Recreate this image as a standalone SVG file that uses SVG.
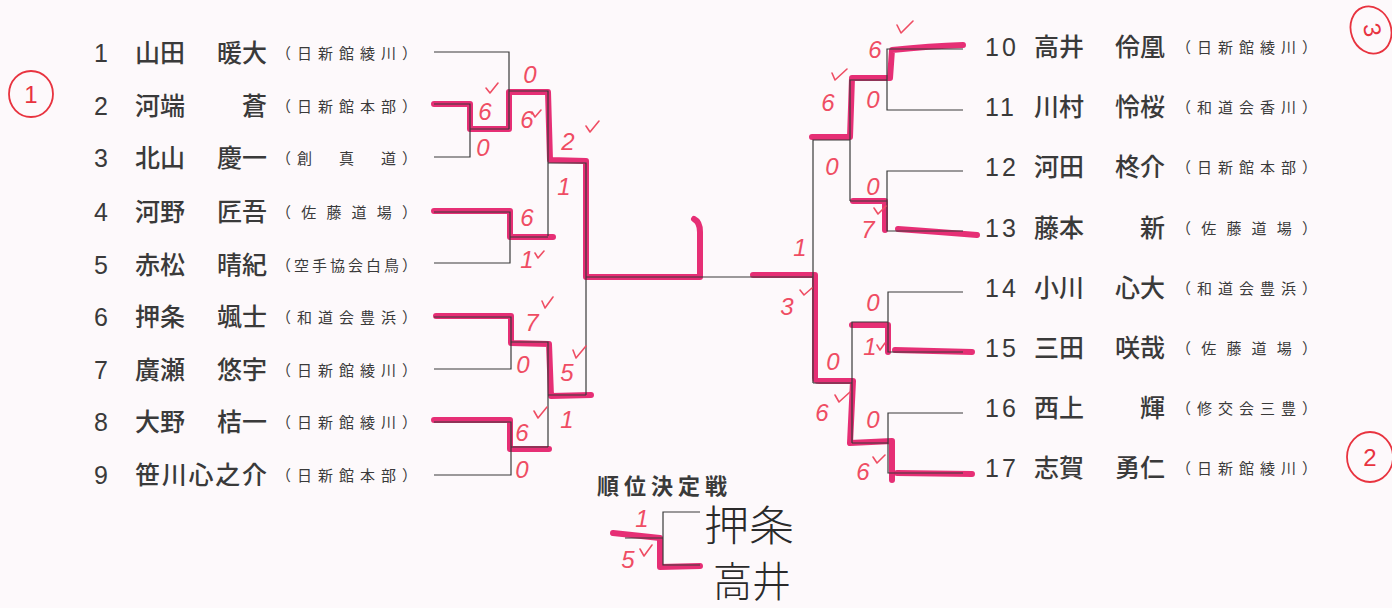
<svg xmlns="http://www.w3.org/2000/svg" width="1392" height="608" viewBox="0 0 1392 608">
<style>
.num{font-family:'Liberation Sans','Noto Sans CJK JP',sans-serif;font-size:25px;fill:#3a3a3a}
.nm{font-family:'Noto Sans CJK JP',sans-serif;font-size:25px;font-weight:500;fill:#3a3a3a}
.cl{font-family:'Noto Sans CJK JP',sans-serif;font-size:15px;fill:#3a3a3a}
.ln{fill:none;stroke:#3a3a3a;stroke-width:1.2}
.hl{fill:none;stroke:#e5246e;stroke-width:6;stroke-linecap:round;stroke-linejoin:round;opacity:0.95}
.sc{font-family:'Liberation Sans',sans-serif;font-style:italic;font-size:24px;fill:#ef4d63;text-anchor:middle}
.chk{fill:none;stroke:#ef4d63;stroke-width:1.6;stroke-linecap:round;stroke-linejoin:round}
.circ{fill:none;stroke:#e8333f;stroke-width:1.8}
.cn{font-family:'Liberation Sans',sans-serif;font-size:24px;fill:#e8333f;text-anchor:middle}
.hw{font-family:'Noto Sans CJK JP',sans-serif;font-size:42px;font-weight:300;fill:#2a2a2a}
.ttl{font-family:'Noto Sans CJK JP',sans-serif;font-size:22px;font-weight:bold;fill:#3a3a3a}
</style>
<rect width="1392" height="608" fill="#fdf9fb"/>

<!-- highlighter (winner paths) -->
<g id="highlights">
<path class="hl" d="M434,104 L470,104 L470,129 L509,129 L509,92 L548,92 L550,160 L586,161 L586,277 L700,277 L700,232 Q700,222 694,219"/>
<path class="hl" d="M434,211 L510,211 L510,237 L553,237"/>
<path class="hl" d="M436,316 L511,316 L511,343 L549,344 L551,396 L591,395"/>
<path class="hl" d="M434,420 L510,420 L510,449 L549,449"/>
<path class="hl" d="M963,45 Q930,46 892,50 L890,78 L852,78 L850,137 L812,137"/>
<path class="hl" d="M885,230 L885,201 L853,201"/>
<path class="hl" d="M898,229 Q940,232 977,235"/>
<path class="hl" d="M753,275 L815,275 L815,378 Q815,381 820,381 L853,381 L850,443 L892,441 L892,480"/>
<path class="hl" d="M897,473 L972,474"/>
<path class="hl" d="M852,325 L888,325 L888,352"/>
<path class="hl" d="M895,350 L972,352"/>
<path class="hl" d="M613,533 L660,538 L660,567 L700,566"/>
</g>

<!-- bracket connectors -->
<g id="connectors">
<path class="ln" d="M434,52 H509 V129 M434,104 H470 V157 H434 M470,129 H509"/>
<path class="ln" d="M509,91 H548 V236 M434,212 H510 V263 H434 M510,237 H548"/>
<path class="ln" d="M548,163 H586 V395"/>
<path class="ln" d="M434,317 H511 V369 H434 M511,342 H548 V447 M434,422 H511 V475 H434 M511,447 H548 M548,395 H586"/>
<path class="ln" d="M586,277 H813"/>
<path class="ln" d="M963,49 H887 V110 H963 M887,80 H850 V201 M963,171 H887 V231 H963 M887,201 H850 M850,140 H813 V383"/>
<path class="ln" d="M963,292 H888 V352 H963 M888,322 H852 V443 M963,413 H888 V473 H963 M888,443 H852 M852,383 H813"/>
<path class="ln" d="M700,512 H663 V565 H700 M625,538 H663"/>
</g>

<!-- left players -->
<g id="p1"><text class="num" x="101" y="62" text-anchor="middle">1</text><text class="nm" x="135" y="62">山田</text><text class="nm" x="267" y="62" text-anchor="end">暖大</text><text class="cl" x="276" y="59" textLength="141" lengthAdjust="spacing">（日新館綾川）</text></g>
<g id="p2"><text class="num" x="101" y="115" text-anchor="middle">2</text><text class="nm" x="135" y="115">河端</text><text class="nm" x="267" y="115" text-anchor="end">蒼</text><text class="cl" x="276" y="112" textLength="141" lengthAdjust="spacing">（日新館本部）</text></g>
<g id="p3"><text class="num" x="101" y="167" text-anchor="middle">3</text><text class="nm" x="135" y="167">北山</text><text class="nm" x="267" y="167" text-anchor="end">慶一</text><text class="cl" x="276" y="164" textLength="141" lengthAdjust="spacing">（創　真　道）</text></g>
<g id="p4"><text class="num" x="101" y="221" text-anchor="middle">4</text><text class="nm" x="135" y="221">河野</text><text class="nm" x="267" y="221" text-anchor="end">匠吾</text><text class="cl" x="276" y="218" textLength="141" lengthAdjust="spacing">（佐藤道場）</text></g>
<g id="p5"><text class="num" x="101" y="274" text-anchor="middle">5</text><text class="nm" x="135" y="274">赤松</text><text class="nm" x="267" y="274" text-anchor="end">晴紀</text><text class="cl" x="276" y="271" textLength="141" lengthAdjust="spacing">（空手協会白鳥）</text></g>
<g id="p6"><text class="num" x="101" y="326" text-anchor="middle">6</text><text class="nm" x="135" y="326">押条</text><text class="nm" x="267" y="326" text-anchor="end">颯士</text><text class="cl" x="276" y="323" textLength="141" lengthAdjust="spacing">（和道会豊浜）</text></g>
<g id="p7"><text class="num" x="101" y="379" text-anchor="middle">7</text><text class="nm" x="135" y="379">廣瀬</text><text class="nm" x="267" y="379" text-anchor="end">悠宇</text><text class="cl" x="276" y="376" textLength="141" lengthAdjust="spacing">（日新館綾川）</text></g>
<g id="p8"><text class="num" x="101" y="431" text-anchor="middle">8</text><text class="nm" x="135" y="431">大野</text><text class="nm" x="267" y="431" text-anchor="end">桔一</text><text class="cl" x="276" y="428" textLength="141" lengthAdjust="spacing">（日新館綾川）</text></g>
<g id="p9"><text class="num" x="101" y="484" text-anchor="middle">9</text><text class="nm" x="135" y="484" textLength="132" lengthAdjust="spacing">笹川心之介</text><text class="cl" x="276" y="481" textLength="141" lengthAdjust="spacing">（日新館本部）</text></g>

<!-- right players -->
<g id="p10"><text class="num" x="985" y="56" letter-spacing="3">10</text><text class="nm" x="1034" y="56">高井</text><text class="nm" x="1165" y="56" text-anchor="end">伶凰</text><text class="cl" x="1176" y="53" textLength="141" lengthAdjust="spacing">（日新館綾川）</text></g>
<g id="p11"><text class="num" x="985" y="116" letter-spacing="3">11</text><text class="nm" x="1034" y="116">川村</text><text class="nm" x="1165" y="116" text-anchor="end">怜桜</text><text class="cl" x="1176" y="113" textLength="141" lengthAdjust="spacing">（和道会香川）</text></g>
<g id="p12"><text class="num" x="985" y="176" letter-spacing="3">12</text><text class="nm" x="1034" y="176">河田</text><text class="nm" x="1165" y="176" text-anchor="end">柊介</text><text class="cl" x="1176" y="173" textLength="141" lengthAdjust="spacing">（日新館本部）</text></g>
<g id="p13"><text class="num" x="985" y="237" letter-spacing="3">13</text><text class="nm" x="1034" y="237">藤本</text><text class="nm" x="1165" y="237" text-anchor="end">新</text><text class="cl" x="1176" y="234" textLength="141" lengthAdjust="spacing">（佐藤道場）</text></g>
<g id="p14"><text class="num" x="985" y="297" letter-spacing="3">14</text><text class="nm" x="1034" y="297">小川</text><text class="nm" x="1165" y="297" text-anchor="end">心大</text><text class="cl" x="1176" y="294" textLength="141" lengthAdjust="spacing">（和道会豊浜）</text></g>
<g id="p15"><text class="num" x="985" y="357" letter-spacing="3">15</text><text class="nm" x="1034" y="357">三田</text><text class="nm" x="1165" y="357" text-anchor="end">咲哉</text><text class="cl" x="1176" y="354" textLength="141" lengthAdjust="spacing">（佐藤道場）</text></g>
<g id="p16"><text class="num" x="985" y="417" letter-spacing="3">16</text><text class="nm" x="1034" y="417">西上</text><text class="nm" x="1165" y="417" text-anchor="end">輝</text><text class="cl" x="1176" y="414" textLength="141" lengthAdjust="spacing">（修交会三豊）</text></g>
<g id="p17"><text class="num" x="985" y="477" letter-spacing="3">17</text><text class="nm" x="1034" y="477">志賀</text><text class="nm" x="1165" y="477" text-anchor="end">勇仁</text><text class="cl" x="1176" y="474" textLength="141" lengthAdjust="spacing">（日新館綾川）</text></g>

<!-- placement match -->
<g id="placement">
<text class="ttl" x="597" y="494" textLength="130" lengthAdjust="spacing">順位決定戦</text>
<text class="hw" x="704" y="541" textLength="90" lengthAdjust="spacingAndGlyphs">押条</text>
<text class="hw" x="713" y="597" textLength="78" lengthAdjust="spacingAndGlyphs">高井</text>
</g>

<!-- handwritten scores -->
<g id="scores">
<text class="sc" x="485" y="120">6</text>
<text class="sc" x="483" y="156">0</text>
<text class="sc" x="530" y="83">0</text>
<text class="sc" x="527" y="128">6</text>
<text class="sc" x="568" y="150">2</text>
<text class="sc" x="564" y="195">1</text>
<text class="sc" x="527" y="226">6</text>
<text class="sc" x="527" y="268">1</text>
<text class="sc" x="532" y="331">7</text>
<text class="sc" x="523" y="373">0</text>
<text class="sc" x="567" y="381">5</text>
<text class="sc" x="567" y="428">1</text>
<text class="sc" x="522" y="441">6</text>
<text class="sc" x="522" y="478">0</text>
<text class="sc" x="875" y="58">6</text>
<text class="sc" x="828" y="111">6</text>
<text class="sc" x="873" y="108">0</text>
<text class="sc" x="832" y="175">0</text>
<text class="sc" x="873" y="195">0</text>
<text class="sc" x="868" y="238">7</text>
<text class="sc" x="800" y="256">1</text>
<text class="sc" x="787" y="315">3</text>
<text class="sc" x="873" y="311">0</text>
<text class="sc" x="870" y="355">1</text>
<text class="sc" x="833" y="370">0</text>
<text class="sc" x="822" y="421">6</text>
<text class="sc" x="873" y="428">0</text>
<text class="sc" x="863" y="480">6</text>
<text class="sc" x="642" y="527">1</text>
<text class="sc" x="628" y="568">5</text>
<path class="chk" d="M486,88 L490,93 L498,83"/>
<path class="chk" d="M532,112 L535,117 L541,110"/>
<path class="chk" d="M586,126 L590,132 L599,121"/>
<path class="chk" d="M535,253 L538,258 L544,251"/>
<path class="chk" d="M542,301 L545,308 L553,297"/>
<path class="chk" d="M573,350 L576,358 L586,346"/>
<path class="chk" d="M534,411 L538,418 L547,407"/>
<path class="chk" d="M897,25 L901,33 L913,21"/>
<path class="chk" d="M832,73 L835,80 L847,69"/>
<path class="chk" d="M874,208 L878,214 L886,206"/>
<path class="chk" d="M800,290 L804,295 L812,288"/>
<path class="chk" d="M877,345 L880,350 L885,343"/>
<path class="chk" d="M835,395 L839,402 L850,392"/>
<path class="chk" d="M873,457 L877,463 L885,455"/>
<path class="chk" d="M640,549 L644,556 L652,545"/>
</g>

<!-- circled rankings -->
<g id="rank1"><ellipse class="circ" cx="31" cy="94" rx="22" ry="23"/><text class="cn" x="31" y="103">1</text></g>
<g id="rank3"><ellipse class="circ" cx="1371" cy="30" rx="20" ry="24" transform="rotate(-20 1371 30)"/><text class="cn" x="1372" y="38" transform="rotate(80 1372 30)">3</text></g>
<g id="rank2"><ellipse class="circ" cx="1370" cy="457" rx="23" ry="25"/><text class="cn" x="1370" y="466">2</text></g>
</svg>
